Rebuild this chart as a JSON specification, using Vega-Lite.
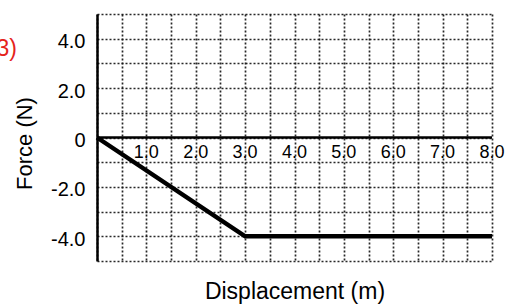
{
  "$schema": "https://vega.github.io/schema/vega-lite/v6.json",
  "width": 395,
  "height": 247,
  "autosize": "none",
  "padding": {"left": 97, "top": 14, "right": 21, "bottom": 47},
  "config": {"view": {"stroke": null}, "font": "Liberation Sans"},
  "datasets": {
    "zero": [{"d": 0, "f": 0}, {"d": 8, "f": 0}],
    "force": [{"d": 0, "f": 0}, {"d": 3, "f": -4}, {"d": 8, "f": -4}],
    "xlabels": [
      {"d": 1, "f": -0.63, "label": "1.0"},
      {"d": 2, "f": -0.63, "label": "2.0"},
      {"d": 3, "f": -0.63, "label": "3.0"},
      {"d": 4, "f": -0.63, "label": "4.0"},
      {"d": 5, "f": -0.63, "label": "5.0"},
      {"d": 6, "f": -0.63, "label": "6.0"},
      {"d": 7, "f": -0.63, "label": "7.0"},
      {"d": 8, "f": -0.63, "label": "8.0"}
    ],
    "tag": [{"d": -1.62, "f": 3.6, "label": "(3)"}]
  },
  "layer": [
    {
      "data": {"name": "zero"},
      "mark": {"type": "line", "color": "black", "strokeWidth": 2.5},
      "encoding": {
        "x": {
          "field": "d", "type": "quantitative",
          "scale": {"domain": [0, 8], "nice": false, "zero": false},
          "axis": {
            "values": [0, 0.5, 1, 1.5, 2, 2.5, 3, 3.5, 4, 4.5, 5, 5.5, 6, 6.5, 7, 7.5, 8],
            "tickCount": 40,
            "grid": true, "gridDash": [2, 2], "gridColor": "#111", "gridWidth": 1.7, "gridOpacity": 0.9,
            "labels": false, "ticks": false, "domain": false,
            "title": "Displacement (m)", "titleFontSize": 23, "titleFontWeight": "normal",
            "titleColor": "black", "titlePadding": 19
          }
        },
        "y": {
          "field": "f", "type": "quantitative",
          "scale": {"domain": [-5, 5], "nice": false, "zero": false},
          "axis": {
            "values": [-5, -4, -3, -2, -1, 0, 1, 2, 3, 4, 5],
            "tickCount": 40,
            "labelExpr": "datum.value % 2 != 0 ? '' : (datum.value == 0 ? '0' : (datum.value < 0 ? '-' : '') + abs(datum.value) + '.0')",
            "labelOverlap": false,
            "grid": true, "gridDash": [2, 2], "gridColor": "#111", "gridWidth": 1.7, "gridOpacity": 0.9,
            "ticks": false, "domain": true, "domainColor": "black", "domainWidth": 2.5,
            "labelFontSize": 20, "labelColor": "black", "labelPadding": 12, "labelOffset": 3,
            "title": "Force (N)", "titleFontSize": 22, "titleFontWeight": "normal", "titleColor": "black",
            "titleX": -73, "titleY": 129, "titleAngle": -90, "titleBaseline": "middle", "titleAlign": "center"
          }
        }
      }
    },
    {
      "data": {"name": "force"},
      "mark": {"type": "line", "color": "black", "strokeWidth": 4.5},
      "encoding": {
        "x": {"field": "d", "type": "quantitative"},
        "y": {"field": "f", "type": "quantitative"}
      }
    },
    {
      "data": {"name": "xlabels"},
      "mark": {"type": "text", "fontSize": 18, "color": "black", "baseline": "middle", "align": "center"},
      "encoding": {
        "x": {"field": "d", "type": "quantitative"},
        "y": {"field": "f", "type": "quantitative"},
        "text": {"field": "label"}
      }
    },
    {
      "data": {"name": "tag"},
      "mark": {"type": "text", "fontSize": 23, "color": "#e5231b", "baseline": "middle", "align": "right"},
      "encoding": {
        "x": {"field": "d", "type": "quantitative"},
        "y": {"field": "f", "type": "quantitative"},
        "text": {"field": "label"}
      }
    }
  ]
}
